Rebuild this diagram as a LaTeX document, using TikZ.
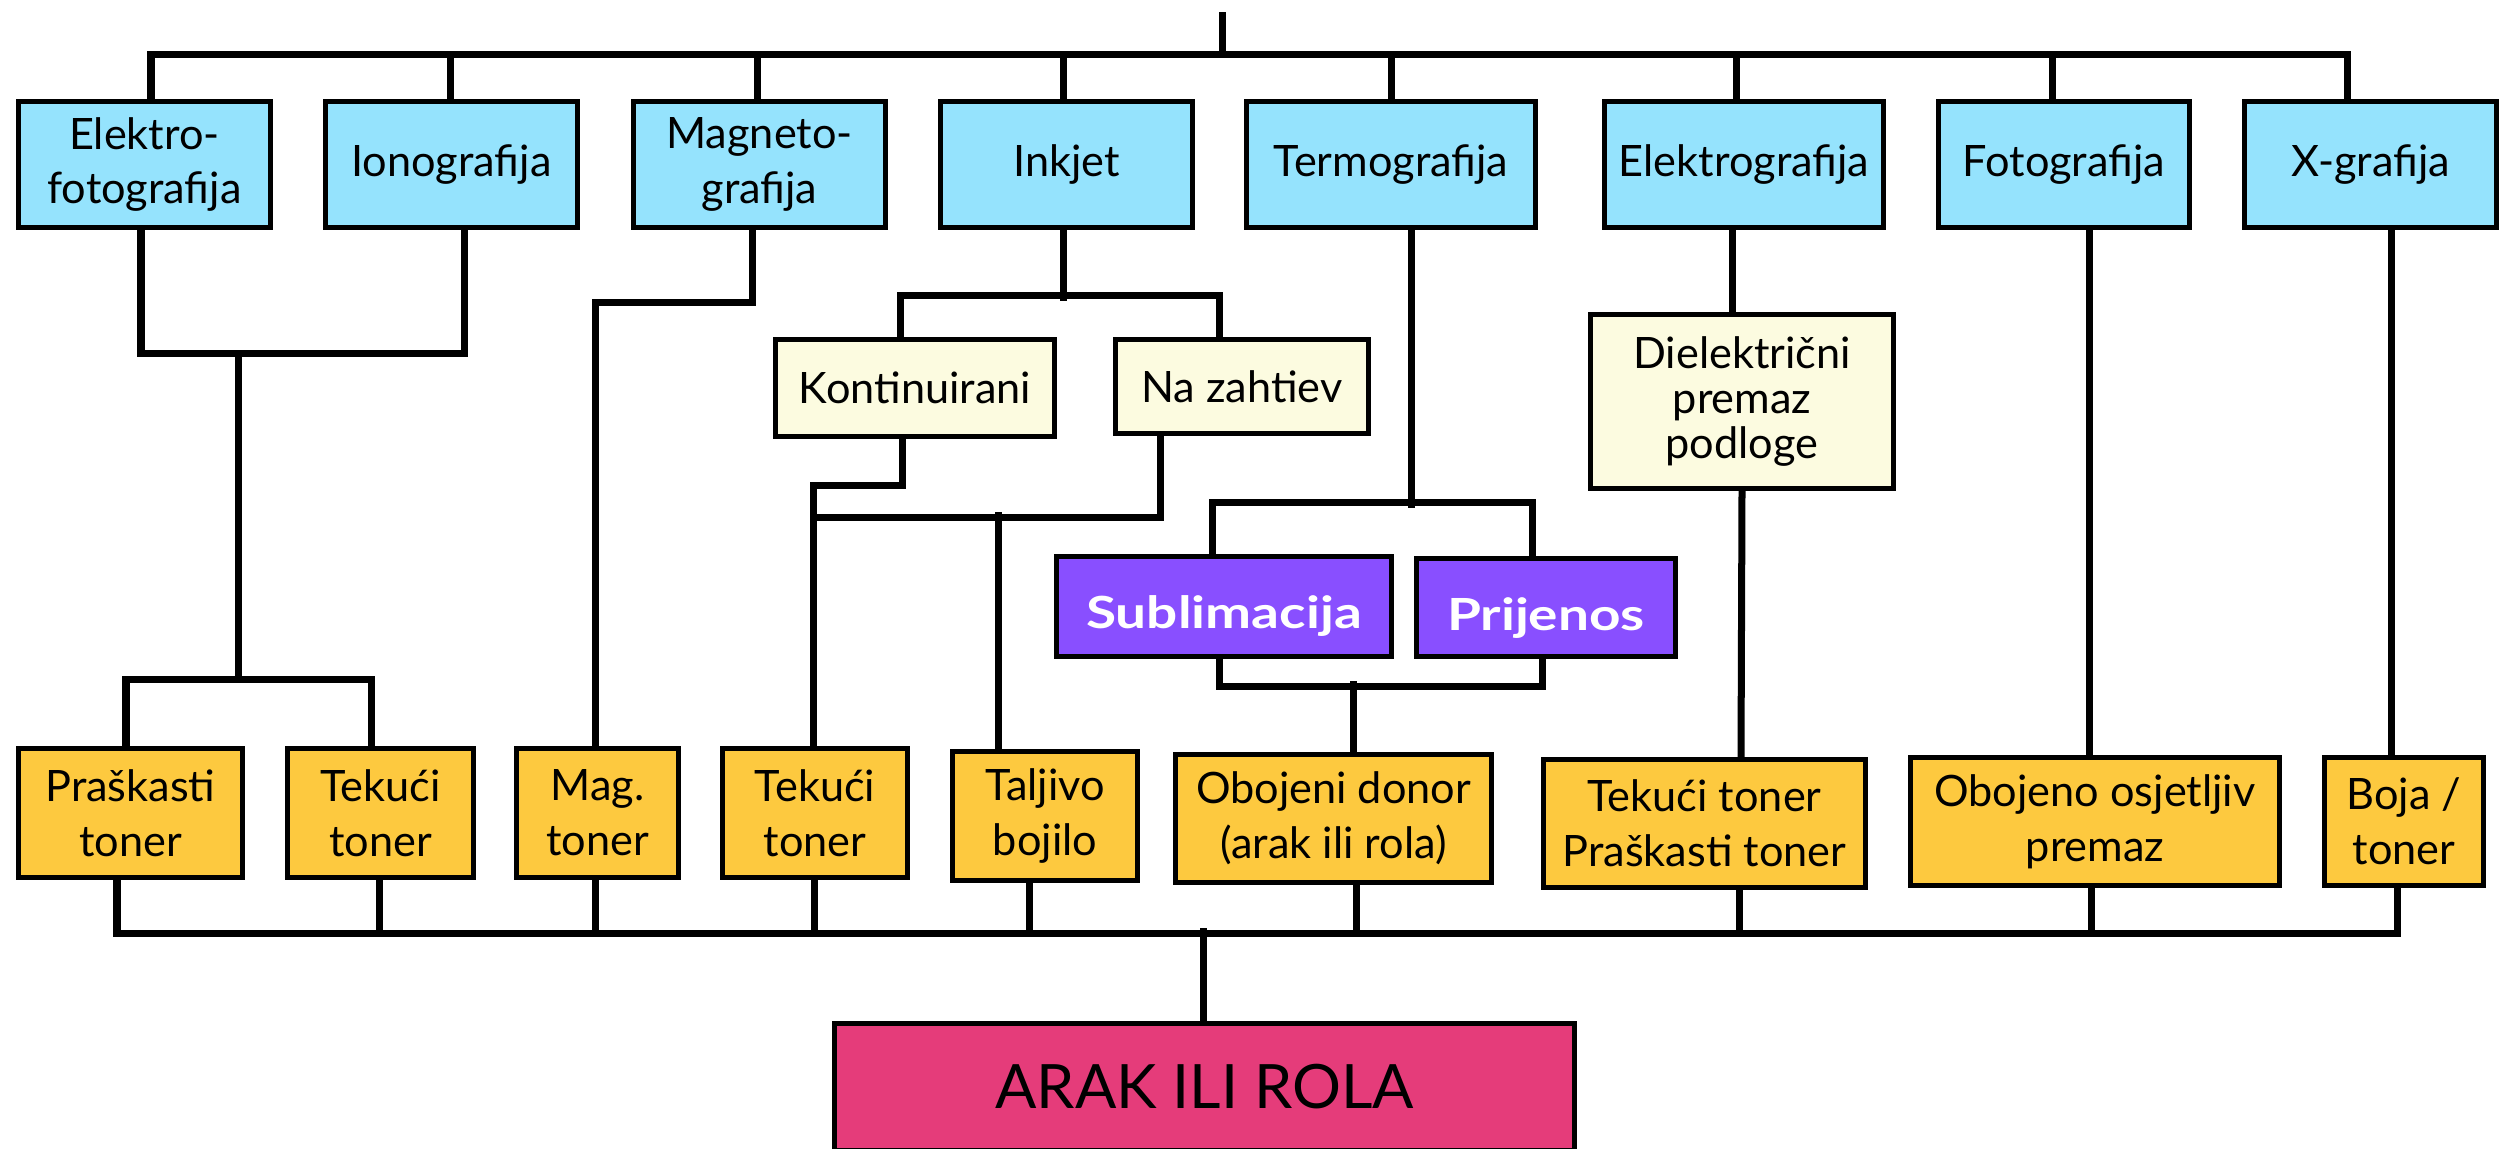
\documentclass[tikz,border=0pt]{standalone}
\usepackage{fontspec}
\setmainfont{Lato}
\newfontfamily\wideLato{Lato}[FakeStretch=1.24]
\usetikzlibrary{calc}
\definecolor{cBlue}{RGB}{149,227,253}
\definecolor{cCream}{RGB}{252,251,224}
\definecolor{cGold}{RGB}{253,201,63}
\definecolor{cPurple}{RGB}{137,79,255}
\definecolor{cPink}{RGB}{229,60,122}
\newcommand\nsz{\fontsize{12.3}{15.6}\selectfont}
\tikzset{
  wire/.style={line width=0.07cm},
  boxbase/.style={draw=black, line width=0.05cm, inner sep=0pt, align=center, font=\nsz},
  bluebox/.style={boxbase, fill=cBlue, minimum height=1.25cm},
  creambox/.style={boxbase, fill=cCream},
  goldbox/.style={boxbase, fill=cGold},
  purplebox/.style={boxbase, fill=cPurple, text=white, font=\wideLato\fontsize{12.6}{15}\selectfont\bfseries, text depth=0pt},
  pinkbox/.style={boxbase, fill=cPink, font=\fontsize{17.4}{20}\selectfont}
}
\begin{document}
\begin{tikzpicture}[x=0.01cm,y=-0.01cm]
\useasboundingbox (0,0) rectangle (2512,1148);
% top row
\node[bluebox, minimum width=2.52cm] (e1) at (144.5,164.5) {Elektro-\\fotografija};
\node[bluebox, minimum width=2.52cm] (e2) at (451.5,164.5) {Ionografija};
\node[bluebox, minimum width=2.52cm] (e3) at (759.5,164.5) {Magneto-\\grafija};
\node[bluebox, minimum width=2.52cm] (e4) at (1066.5,164.5) {Inkjet};
\node[bluebox, minimum width=2.89cm] (e5) at (1391,164.5) {Termografija};
\node[bluebox, minimum width=2.79cm] (e6) at (1744,164.5) {Elektrografija};
\node[bluebox, minimum width=2.51cm] (e7) at (2064,164.5) {Fotografija};
\node[bluebox, minimum width=2.52cm] (e8) at (2370.5,164.5) {X-grafija};
% middle
\node[creambox, minimum width=2.79cm, minimum height=0.97cm] (k) at (915,388) {Kontinuirani};
\node[creambox, minimum width=2.53cm, minimum height=0.94cm] (n) at (1242,386.5) {Na zahtiev};
\node[creambox, minimum width=3.03cm, minimum height=1.74cm, font=\fontsize{12.3}{12.8}\selectfont] (d) at (1742,401.5) {Dielektrični\\premaz\\podloge};
\node[purplebox, minimum width=3.35cm, minimum height=1.00cm, text height=0.43cm] (s) at (1224,606.5) {Sublimacija};
\node[purplebox, minimum width=2.59cm, minimum height=0.98cm, text height=0.46cm] (p) at (1546,607.5) {Prijenos};
% bottom row
\node[goldbox, minimum width=2.24cm, minimum height=1.29cm] (t1) at (130.5,813) {Praškasti\\toner};
\node[goldbox, minimum width=1.86cm, minimum height=1.29cm] (t2) at (380.5,813) {Tekući\\toner};
\node[goldbox, minimum width=1.62cm, minimum height=1.29cm] (t3) at (597.5,813) {Mag.\\toner};
\node[goldbox, minimum width=1.85cm, minimum height=1.29cm] (t4) at (815,813) {Tekući\\toner};
\node[goldbox, minimum width=1.85cm, minimum height=1.29cm] (t5) at (1045,816) {Taljivo\\bojilo};
\node[goldbox, minimum width=3.16cm, minimum height=1.28cm] (t6) at (1333.5,818.5) {Obojeni donor\\(arak ili rola)};
\node[goldbox, minimum width=3.22cm, minimum height=1.28cm] (t7) at (1704.5,823.5) {Tekući toner\\Praškasti toner};
\node[goldbox, minimum width=3.69cm, minimum height=1.28cm] (t8) at (2095,821.5) {Obojeno osjetljiv\\premaz};
\node[goldbox, minimum width=1.59cm, minimum height=1.28cm] (t9) at (2404,821.5) {Boja /\\toner};
\node[pinkbox, minimum width=7.40cm, minimum height=1.27cm] (a) at (1204.5,1087) {ARAK ILI ROLA};
% connectors: top
\coordinate (root) at (1222,12);
\draw[wire] (root) -- ++(0,45);
\draw[wire] (e1.north) ++(6.5,0) -- ++(0,-45) -| ($(e8.north)+(-23.5,0)$);
\draw[wire] (e2.north) ++(-1.5,0) -- ++(0,-45);
\draw[wire] (e3.north) ++(-2.5,0) -- ++(0,-45);
\draw[wire] (e4.north) ++(-3.5,0) -- ++(0,-45);
\draw[wire] (e5.north) -- ++(0,-45);
\draw[wire] (e6.north) ++(-8,0) -- ++(0,-45);
\draw[wire] (e7.north) ++(-12,0) -- ++(0,-45);
% electrophotography + ionography
\draw[wire] (e1.south) ++(-3.5,0) -- ++(0,124) -| ($(e2.south)+(12.5,0)$);
\coordinate (j1) at (238,351);
\coordinate (j2) at (238,679);
\draw[wire] (j1) -- (j2);
\draw[wire] (t1.north) ++(-4.5,0) |- (j2) -| ($(t2.north)+(-9.5,0)$);
% magnetography
\draw[wire] (e3.south) ++(-7.5,0) -- ++(0,73) -| ($(t3.north)+(-2.5,0)$);
% inkjet
\draw[wire] (e4.south) ++(-3.5,0) -- ++(0,71);
\draw[wire] (k.north) ++(-15,0) -- ++(0,-41.5) -| ($(n.north)+(-23,0)$);
\draw[wire] (k.south) ++(-13,0) -- ++(0,46.5) -| ($(t4.north)+(-2,0)$);
\draw[wire] (n.south) ++(-82,0) -- ++(0,81.5) -- ++(-347,0);
\draw[wire] (t5.north) ++(-47,0) -- ++(0,-236.5);
% thermography
\draw[wire] (e5.south) ++(20,0) -- ++(0,278);
\draw[wire] (s.north) ++(-12,0) -- ++(0,-51.5) -| ($(p.north)+(-14,0)$);
\draw[wire] (s.south) ++(-5,0) -- ++(0,27) -| ($(p.south)+(-4,0)$);
\draw[wire] (t6.north) ++(19.5,0) -- ++(0,-71);
% electrography, photography, x-graphy
\draw[wire] ($(e6.south)+(-12,0)$) -- ($(d.north)+(-10,0)$);
\draw[wire] (d.south) -- ($(t7.north)+(36.5,0)$);
\draw[wire] ($(e7.south)+(25,0)$) -- ($(t8.north)+(-6,0)$);
\draw[wire] ($(e8.south)+(20.5,0)$) -- ($(t9.north)+(-13,0)$);
% bottom bus
\draw[wire] (t1.south) ++(-13.5,0) -- ++(0,53.5) -| ($(t9.south)+(-7,0)$);
\draw[wire] (t2.south) ++(-1.5,0) -- ++(0,53.5);
\draw[wire] (t3.south) ++(-2.5,0) -- ++(0,53.5);
\draw[wire] (t4.south) ++(-1,0) -- ++(0,53.5);
\draw[wire] (t5.south) ++(-16,0) -- ++(0,50.5);
\draw[wire] (t6.south) ++(22.5,0) -- ++(0,48.5);
\draw[wire] (t7.south) ++(34.5,0) -- ++(0,43.5);
\draw[wire] (t8.south) ++(-4,0) -- ++(0,45.5);
\draw[wire] (a.north) ++(-1.5,0) -- ++(0,-92.5);
\end{tikzpicture}
\end{document}
